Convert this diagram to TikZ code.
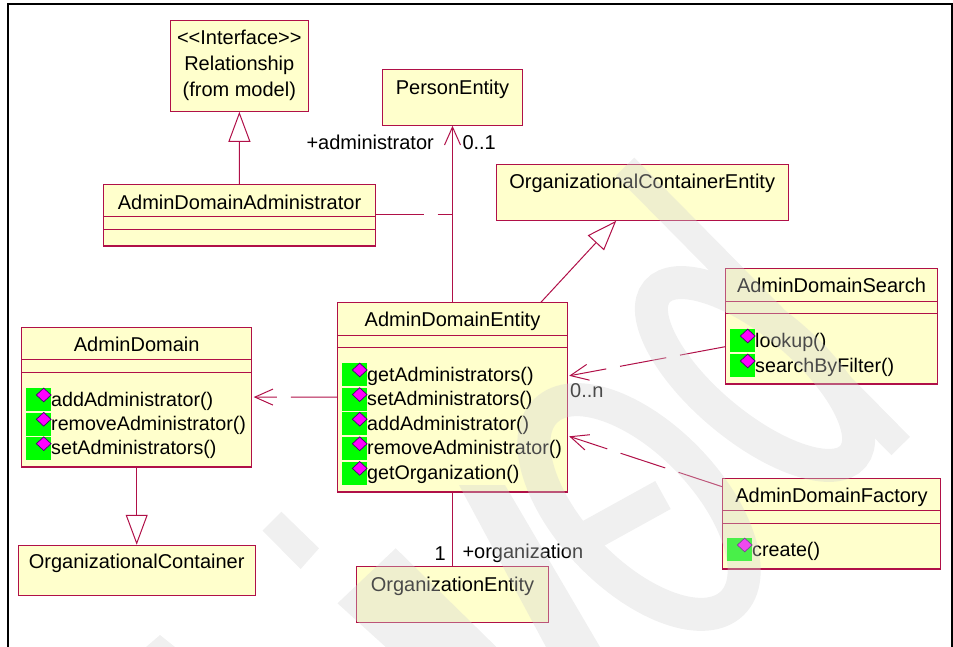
\documentclass[tikz,border=0pt]{standalone}
\usepackage{fontspec}
\setmainfont{Liberation Sans}
\usetikzlibrary{arrows.meta,shapes.geometric}
\definecolor{umlline}{RGB}{176,16,72}
\definecolor{umlfill}{RGB}{255,255,204}
\definecolor{opgreen}{RGB}{0,255,0}
\definecolor{opmagenta}{RGB}{255,0,255}
\definecolor{opshade}{RGB}{70,0,110}

\begin{document}
\begin{tikzpicture}[x=1pt,y=-1pt,
		every node/.style={font=\fontsize{20}{26}\selectfont},
		classbox/.style={draw=umlline,fill=umlfill,line width=1pt,inner sep=0pt},
		classname/.style={anchor=base,inner sep=0pt},
		assoclabel/.style={inner sep=0pt},
		umlline/.style={draw=umlline,line width=1pt},
		generalize/.style={umlline,-{Triangle[length=30pt,width=22pt,fill=white]}},
		depends/.style={umlline,-{Straight Barb[length=18pt,width=16pt]},dash pattern=on 46pt off 14pt on 47pt off 14pt},
		opbox/.style={fill=opgreen,anchor=north west,minimum width=25pt,minimum height=23pt,inner sep=0pt},
		opkey/.style={diamond,fill=opmagenta,draw=opshade,line width=.7pt,minimum width=15pt,minimum height=14pt,inner sep=0pt},
		optext/.style={anchor=base west,inner sep=0pt,font=\fontsize{19.7}{26}\selectfont}]
	
	\useasboundingbox (0,0) rectangle (953,647);
	
	% Page frame
	\draw[black,line width=2.2pt] (8,647) -- (8,4) -- (952,4) -- (952,647);
	
	% Class boxes
	\node[classbox,align=center,minimum width=138pt,minimum height=91pt] (relationship) at (239.3,65.8) {\mbox{<}\mbox{<}Interface\mbox{>}\mbox{>}\\Relationship\\(from model)};
	\node[classbox,minimum width=139.6pt,minimum height=55.6pt] (person) at (452.5,97.5) {};
	\node[classbox,minimum width=272.4pt,minimum height=61.4pt] (adminadmin) at (239.5,215) {};
	\node[classbox,minimum width=292.3pt,minimum height=56.3pt] (containerentity) at (642.2,192.2) {};
	\node[classbox,minimum width=230.4pt,minimum height=189pt] (entity) at (452.5,397.2) {};
	\node[classbox,minimum width=230pt,minimum height=139.4pt] (admindomain) at (136.7,397) {};
	\node[classbox,minimum width=237.3pt,minimum height=50.7pt] (container) at (136.7,570.6) {};
	\node[classbox,minimum width=191.6pt,minimum height=56pt] (orgentity) at (452.5,594) {};
	\node[classbox,minimum width=211.6pt,minimum height=115.3pt] (search) at (831.5,326.3) {};
	\node[classbox,minimum width=217.6pt,minimum height=90.7pt] (factory) at (831.5,523.6) {};
	
	% Class names
	\node[classname] (personname) at (452.5,94.7) {PersonEntity};
	\node[classname] (adminadminname) at (239.5,209.3) {AdminDomainAdministrator};
	\node[classname] (containerentityname) at (642.2,189) {OrganizationalContainerEntity};
	\node[classname] (entityname) at (452.5,326.7) {AdminDomainEntity};
	\node[classname] (admindomainname) at (136.7,351) {AdminDomain};
	\node[classname] (containername) at (136.7,568.7) {OrganizationalContainer};
	\node[classname] (orgentityname) at (452.5,591) {OrganizationEntity};
	\node[classname] (searchname) at (831.5,292.7) {AdminDomainSearch};
	\node[classname] (factoryname) at (831.5,502) {AdminDomainFactory};
	
	% Compartment lines
	\foreach \boxname in {adminadmin,entity,admindomain,search,factory} {
		\draw[umlline] ([yshift=-33pt]\boxname.north west) -- ([yshift=-33pt]\boxname.north east);
		\draw[umlline] ([yshift=-45.5pt]\boxname.north west) -- ([yshift=-45.5pt]\boxname.north east);
		\draw[umlline,line width=1.8pt] (\boxname.south west) -- (\boxname.south east);
	}
	
	% Operations
	\foreach \opname/\x/\y/\optitle in {
		ada/26/388/addAdministrator(), adb/26/412.3/removeAdministrator(), adc/26/436.7/setAdministrators(),
		ena/342/363/getAdministrators(), enb/342/387.6/setAdministrators(), enc/342/412.2/addAdministrator(),
		end/342/436.8/removeAdministrator(), ene/342/461.4/getOrganization(),
		sea/730/329/lookup(), seb/730/354/searchByFilter(),
		faa/727/538/create()} {
		\node[opbox] (box\opname) at (\x,\y) {};
		\node[opkey] (key\opname) at ([shift={(17.7,7)}]box\opname.north west) {};
		\node[optext] (text\opname) at ({\x+25},{\y+18}) {\optitle};
	}
	
	% Connector points
	\coordinate (assoc) at (452.5,214.3);
	
	% Connectors
	\draw[generalize] (adminadmin) -- (relationship);
	\draw[umlline,-{Straight Barb[length=18pt,width=16pt]}] (entity) -- (person);
	\draw[umlline,dash pattern=on 47.5pt off 14pt on 20pt] (assoc -| adminadmin.east) -- (assoc);
	\draw[generalize] ([xshift=88.5pt]entity.north) -- ([xshift=-26pt]containerentity.south);
	\draw[depends,shorten >=1pt] (search.west |- 0,346.7) -- (entity.east |- 0,376);
	\draw[depends,shorten >=1pt] (factory.west |- 0,486.7) -- (entity.east |- 0,436);
	\draw[depends,shorten >=1.5pt] (entity) -- (admindomain);
	\draw[generalize] (admindomain) -- (container);
	\draw[umlline] (entity) -- (orgentity);
	
	% Connector labels
	\node[assoclabel,anchor=base east] (adminrole) at (434,150) {+administrator};
	\node[assoclabel,anchor=base west] (adminmult) at (462.3,150) {0..1};
	\node[assoclabel,anchor=base west] (searchmult) at (570,397) {0..n};
	\node[assoclabel,anchor=base east] (orgmult) at (446,560) {1};
	\node[assoclabel,anchor=base west] (orgrole) at (462.3,558.5) {+organization};
	
	% Watermark
	\begin{scope}[transparency group,opacity=.35]
		\draw[line width=26pt,color=black!17] (625,166.7) -- (900.7,446);
		\draw[line width=33pt,color=black!17] (755,374) ellipse [x radius=128,y radius=52,rotate=-40];
		\draw[line width=33pt,color=black!17] (639,507) ellipse [x radius=134,y radius=68,rotate=-46];
		\draw[line width=32pt,color=black!17] (567,548) -- (663,495);
		\fill[black!17] (281.4,511.7) -- (319,548.3) -- (300.7,569) -- (262.5,530.7) -- cycle;
		\fill[black!17] (337.5,603.3) -- (395.7,548.3) -- (496.4,647) -- (385.7,647) -- cycle;
		\fill[black!17] (459,485) -- (505,485) -- (600,647) -- (546,647) -- cycle;
		\fill[black!17] (146,647) -- (160,635) -- (175,647) -- cycle;
	\end{scope}
\end{tikzpicture}
\end{document}
